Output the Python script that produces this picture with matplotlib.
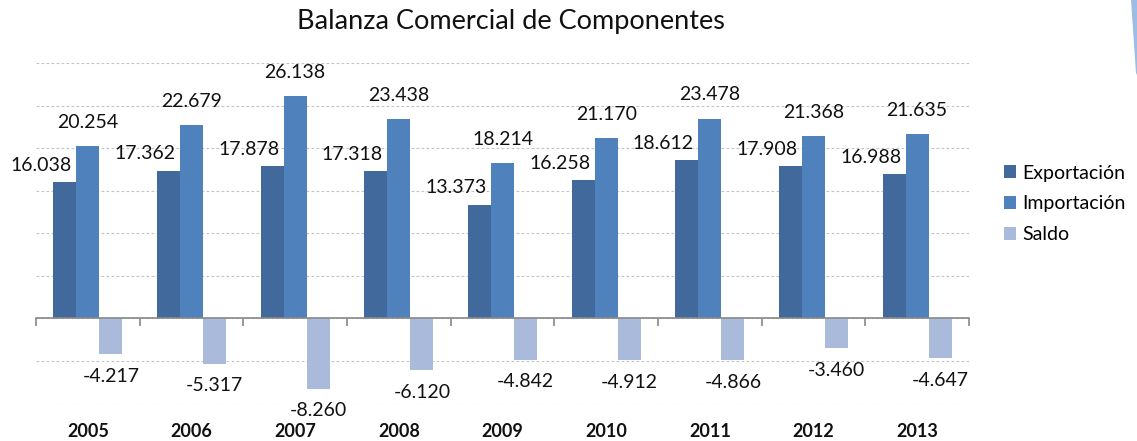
import matplotlib.pyplot as plt
from matplotlib.patches import Polygon
from matplotlib.transforms import blended_transform_factory

years = ['2005', '2006', '2007', '2008', '2009', '2010', '2011', '2012', '2013']
exportacion = [16.038, 17.362, 17.878, 17.318, 13.373, 16.258, 18.612, 17.908, 16.988]
importacion = [20.254, 22.679, 26.138, 23.438, 18.214, 21.170, 23.478, 21.368, 21.635]
saldo = [-4.217, -5.317, -8.260, -6.120, -4.842, -4.912, -4.866, -3.460, -4.647]

C_EXP = '#41699C'
C_IMP = '#4F81BD'
C_SAL = '#AABADA'
FONT = 'Lato'

plt.rcParams['font.family'] = [FONT, 'DejaVu Sans']

fig = plt.figure(figsize=(11.37, 4.41), dpi=100)
ax = fig.add_axes([36 / 1137, 1 - 403.5 / 441, 933 / 1137, 340.5 / 441])

x = list(range(len(years)))
w = 0.222
b1 = ax.bar([i - w for i in x], exportacion, w, color=C_EXP, label='Exportación', zorder=3)
b2 = ax.bar(x, importacion, w, color=C_IMP, label='Importación', zorder=3)
b3 = ax.bar([i + w for i in x], saldo, w, color=C_SAL, label='Saldo', zorder=3)

for i in x:
    ax.annotate(f'{exportacion[i]:.3f}', (i - w, exportacion[i]), xytext=(-17, 12),
                textcoords='offset points', ha='center', va='center', fontsize=14, color='#111111')
    ax.annotate(f'{importacion[i]:.3f}', (i, importacion[i]), xytext=(0, 17),
                textcoords='offset points', ha='center', va='center', fontsize=14, color='#111111')
    ax.annotate(f'{saldo[i]:.3f}', (i + w, saldo[i]), xytext=(0, -16),
                textcoords='offset points', ha='center', va='center', fontsize=14, color='#111111')

ax.set_xlim(-0.5, len(years) - 0.5)
ax.set_ylim(-10, 30)
ax.set_yticks(range(-10, 31, 5))
ax.yaxis.grid(True, linestyle=(0, (2.5, 2)), color='#C4C4C4', linewidth=0.8, zorder=0)
ax.tick_params(axis='y', length=0, labelleft=False)
for s in ['left', 'right', 'top']:
    ax.spines[s].set_visible(False)
ax.spines['bottom'].set_position(('data', 0))
ax.spines['bottom'].set_color('#888888')
ax.spines['bottom'].set_linewidth(1.2)
ax.spines['bottom'].set_zorder(4)
ax.set_xticks([i - 0.5 for i in range(len(years) + 1)])
ax.tick_params(axis='x', direction='out', length=6, color='#888888', width=1.2, labelbottom=False)

trans = blended_transform_factory(ax.transData, ax.transAxes)
for i, yr in enumerate(years):
    ax.text(i, -0.083, yr, transform=trans, ha='center', va='center',
            fontsize=13, fontweight='bold', color='#111111')

fig.text(511 / 1137, 1 - 22 / 441, 'Balanza Comercial de Componentes',
         ha='center', va='center', fontsize=19.5, color='#111111')

fig.legend(handles=[b1, b2, b3], loc='center left', bbox_to_anchor=(1004 / 1137, 1 - 204 / 441),
           frameon=False, fontsize=14, handlelength=0.62, handleheight=0.62,
           handletextpad=0.3, labelspacing=0.72, borderpad=0, borderaxespad=0)

deco = Polygon([(1131, 441), (1137, 441), (1137, 366), (1136, 368)], closed=True,
               transform=None, facecolor='#9DBCE6', edgecolor='none')
fig.patches.append(deco)

fig.savefig('out.png', dpi=100)
